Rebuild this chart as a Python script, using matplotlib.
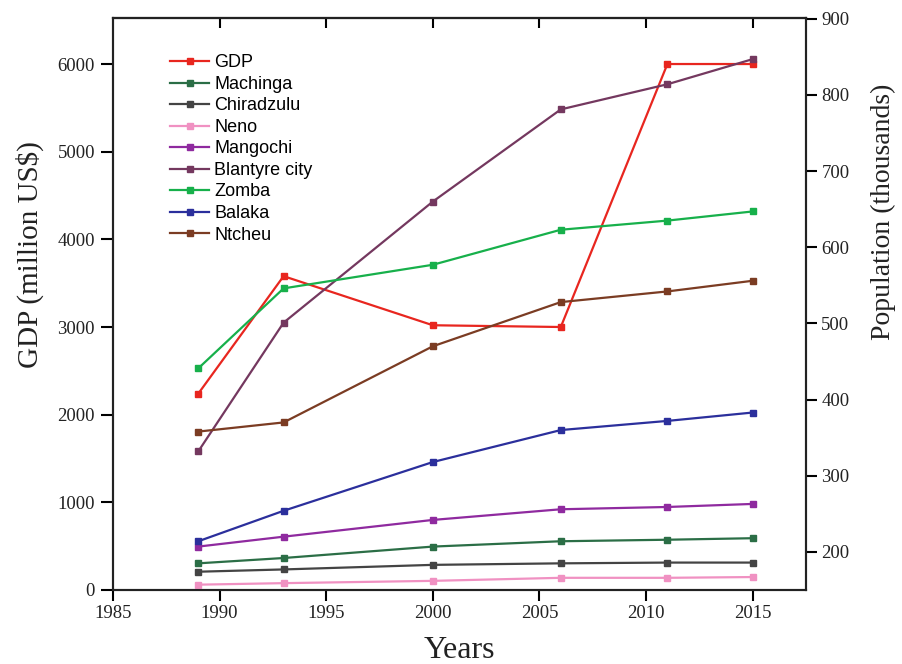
import matplotlib
matplotlib.use("Agg")
import matplotlib.pyplot as plt

years = [1989, 1993, 2000, 2006, 2011, 2015]

# GDP in million US$ (left axis)
gdp = [2240, 3580, 3020, 3000, 6000, 6000]

# population in thousands (right axis)
machinga = [185, 192, 207, 214, 216, 218]
chiradzulu = [174, 177, 183, 185, 186, 186]
neno = [157, 159, 162, 166, 166, 167]
mangochi = [207, 220, 242, 256, 259, 263]
blantyre = [332, 501, 660, 781, 814, 847]
zomba = [441, 546, 577, 623, 635, 647]
balaka = [214, 254, 318, 360, 372, 383]
ntcheu = [358, 370, 470, 528, 542, 556]

districts = ["Machinga", "Chiradzulu", "Neno", "Mangochi", "Blantyre city",
             "Zomba", "Balaka", "Ntcheu"]
pop_series = [machinga, chiradzulu, neno, mangochi, blantyre, zomba, balaka, ntcheu]
colors = ["#2b6e46", "#444444", "#f091c2", "#8f2a9f", "#74385f",
          "#17b04b", "#2b2f9c", "#7b3c23"]

serif = "Liberation Serif"
sans = "Liberation Sans"

fig = plt.figure(figsize=(9.02, 6.64), dpi=100)
ax1 = fig.add_axes([113/902, 74/664, 693/902, 572/664])
ax2 = ax1.twinx()

lw = 1.6
ms = 5
handles = []
h, = ax1.plot(years, gdp, color="#e8261f", marker="s", ms=ms, lw=lw, label="GDP")
handles.append(h)
for name, vals, c in zip(districts, pop_series, colors):
    h, = ax2.plot(years, vals, color=c, marker="s", ms=ms, lw=lw, label=name)
    handles.append(h)

ax1.set_xlim(1985, 2017.5)
ax1.set_ylim(0, 6525)
ax2.set_ylim(150, 901)
ax1.set_xticks([1985, 1990, 1995, 2000, 2005, 2010, 2015])
ax1.set_yticks([0, 1000, 2000, 3000, 4000, 5000, 6000])
ax2.set_yticks([200, 300, 400, 500, 600, 700, 800, 900])

for ax in (ax1, ax2):
    for s in ax.spines.values():
        s.set_linewidth(1.5)
        s.set_color("#222222")

ax1.tick_params(axis="x", direction="out", length=8, width=1.5,
                top=False, labelsize=13.5, pad=3)
ax1.tick_params(axis="y", direction="out", length=9, width=1.5, labelsize=13.5,
                right=False, pad=4)
ax2.tick_params(axis="y", direction="out", length=8, width=1.5, labelsize=13.5, pad=3)
for lab in ax1.get_xticklabels() + ax1.get_yticklabels() + ax2.get_yticklabels():
    lab.set_fontfamily(serif)
    lab.set_color("#222222")

# inward ticks on the top edge
top = ax1.secondary_xaxis("top")
top.set_xticks([1990, 1995, 2000, 2005, 2010, 2015])
top.tick_params(direction="in", length=7, width=1.5, labeltop=False)
top.spines["top"].set_linewidth(1.5)

ax1.set_xlabel("Years", fontsize=23, fontfamily=serif, color="#222222")
ax1.set_ylabel(r"GDP (million US\$)", fontsize=21, fontfamily=serif, color="#222222")
ax2.set_ylabel("Population (thousands)", fontsize=20, fontfamily=serif, color="#222222")
ax1.xaxis.set_label_coords(0.5, -0.080)
ax1.yaxis.set_label_coords(-0.099, 0.586)
ax2.yaxis.set_label_coords(1.094, 0.661)

ax2.legend(handles=handles, loc="upper left", bbox_to_anchor=(0.072, 0.949),
           frameon=False, prop={"family": sans, "size": 13},
           handlelength=2.15, handletextpad=0.3, labelspacing=0.25, borderaxespad=0)

fig.savefig("out.png", dpi=100)
